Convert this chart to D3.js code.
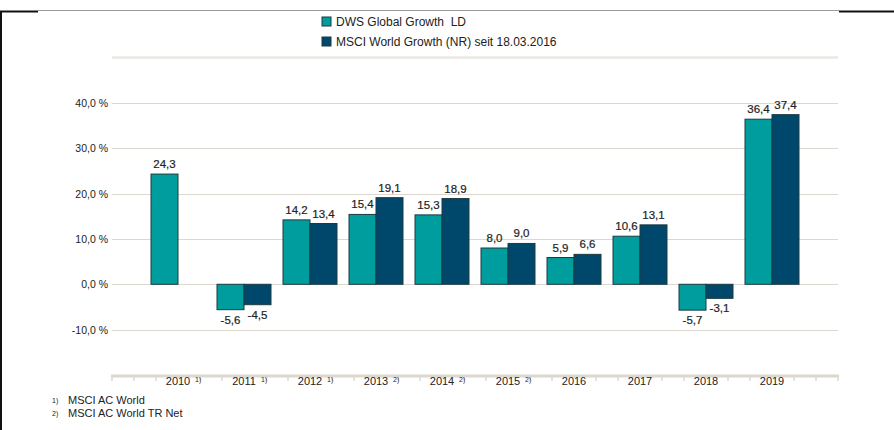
<!DOCTYPE html>
<html lang="de">
<head>
<meta charset="UTF-8">
<title>DWS Global Growth</title>
<script src="https://cdn.jsdelivr.net/npm/d3@7"></script>
<style>
    body { margin: 0; background: #fff; }
    text { font-family: "Liberation Sans", Arial, sans-serif; fill: #222; }
</style>
</head>
<body>
<svg id="chart" width="894" height="430"></svg>
<script>

    var years = ["2010", "2011", "2012", "2013", "2014", "2015", "2016", "2017", "2018", "2019"];
    var notes = ["1)", "1)", "1)", "2)", "2)", "2)", "", "", "", ""];
    var fund = [24.3, -5.6, 14.2, 15.4, 15.3, 8.0, 5.9, 10.6, -5.7, 36.4];
    var bench = [null, -4.5, 13.4, 19.1, 18.9, 9.0, 6.6, 13.1, -3.1, 37.4];
    var seriesNames = ["DWS Global Growth  LD", "MSCI World Growth (NR) seit 18.03.2016"];
    var yTicks = [-10, 0, 10, 20, 30, 40];
    var footnotes = [["1)", "MSCI AC World"], ["2)", "MSCI AC World TR Net"]];

    var colors = ["#009d9f", "#00486b"];
    var fmt = function(v) { return d3.format(".1f")(v).replace(".", ",").replace("\u2212", "-"); };

    var svg = d3.select("#chart");

    // frame
    svg.append("line").attr("x1", 38).attr("x2", 839).attr("y1", 10.5).attr("y2", 10.5)
        .attr("stroke", "#9a9a9a").attr("stroke-width", 1);
    svg.append("line").attr("x1", 0).attr("x2", 38).attr("y1", 11.5).attr("y2", 11.5)
        .attr("stroke", "#111").attr("stroke-width", 2);
    svg.append("line").attr("x1", 839).attr("x2", 894).attr("y1", 11.5).attr("y2", 11.5)
        .attr("stroke", "#111").attr("stroke-width", 2);
    svg.append("line").attr("x1", 1).attr("x2", 1).attr("y1", 11).attr("y2", 430)
        .attr("stroke", "#111").attr("stroke-width", 2);

    var x = d3.scaleBand().domain(years).range([112, 838]).paddingOuter(0.5).paddingInner(0);
    var y = d3.scaleLinear().domain([-20, 50]).range([375, 57.5]);
    var barW = 27;

    // grid
    var grid = svg.append("g");
    grid.selectAll("line.grid")
        .data(yTicks)
        .enter()
        .append("line")
        .attr("class", "grid")
        .attr("x1", 112).attr("x2", 838)
        .attr("y1", function(d) { return Math.round(y(d)) + 0.5; })
        .attr("y2", function(d) { return Math.round(y(d)) + 0.5; })
        .attr("stroke", "#dcd8d0").attr("stroke-width", 1.2);
    grid.append("line")
        .attr("x1", 112).attr("x2", 838).attr("y1", y(50)).attr("y2", y(50))
        .attr("stroke", "#e8e7e2").attr("stroke-width", 2.5);

    grid.selectAll("text.ylab")
        .data(yTicks)
        .enter()
        .append("text")
        .attr("class", "ylab")
        .attr("x", 108)
        .attr("y", function(d) { return y(d) + 4; })
        .attr("text-anchor", "end")
        .attr("font-size", 10.5)
        .text(function(d) { return fmt(d) + " %"; });

    // bars
    function drawSeries(vals, idx) {
        var data = vals.map(function(v, i) { return { year: years[i], v: v }; })
            .filter(function(d) { return d.v !== null; });
        var off = idx === 0 ? -barW : 0;
        svg.selectAll("rect.s" + idx)
            .data(data)
            .enter()
            .append("rect")
            .attr("class", "s" + idx)
            .attr("x", function(d) { return x(d.year) + x.bandwidth() / 2 + off; })
            .attr("y", function(d) { return y(Math.max(0, d.v)); })
            .attr("width", barW)
            .attr("height", function(d) { return Math.abs(y(d.v) - y(0)); })
            .attr("fill", colors[idx])
            .attr("stroke", "#1d3a40")
            .attr("stroke-width", 1);
        svg.selectAll("text.v" + idx)
            .data(data)
            .enter()
            .append("text")
            .attr("class", "v" + idx)
            .attr("x", function(d) { return x(d.year) + x.bandwidth() / 2 + off + barW / 2; })
            .attr("y", function(d) { return d.v >= 0 ? y(d.v) - 6 : y(d.v) + 14; })
            .attr("text-anchor", "middle")
            .attr("font-size", 11.5)
            .attr("stroke", "#222").attr("stroke-width", 0.2)
            .text(function(d) { return fmt(d.v); });
    }
    drawSeries(fund, 0);
    drawSeries(bench, 1);

    // x axis
    var axisY = 376;
    svg.append("line").attr("x1", 111).attr("x2", 839).attr("y1", axisY).attr("y2", axisY)
        .attr("stroke", "#dcd8ce").attr("stroke-width", 3);
    var step = x.step() / 3;
    var tickPos = d3.range(0, 34).map(function(k) { return 112 + k * step; });
    svg.selectAll("line.tick")
        .data(tickPos)
        .enter()
        .append("line")
        .attr("class", "tick")
        .attr("x1", function(d) { return d; }).attr("x2", function(d) { return d; })
        .attr("y1", axisY).attr("y2", axisY + 5)
        .attr("stroke", "#dcd8ce").attr("stroke-width", 1.5);

    var xl = svg.selectAll("g.xlab")
        .data(years)
        .enter()
        .append("g")
        .attr("class", "xlab")
        .attr("transform", function(d) { return "translate(" + (x(d) + x.bandwidth() / 2) + ",0)"; });
    xl.append("rect").attr("x", -14).attr("y", axisY + 2).attr("width", 28).attr("height", 6).attr("fill", "#fff");
    xl.append("text")
        .attr("y", 385)
        .attr("text-anchor", "middle")
        .attr("font-size", 11)
        .text(function(d) { return d; });
    xl.append("text")
        .attr("x", 17)
        .attr("y", 382)
        .attr("font-size", 7)
        .text(function(d, i) { return notes[i]; });

    // legend
    var leg = svg.selectAll("g.leg")
        .data(seriesNames)
        .enter()
        .append("g")
        .attr("class", "leg")
        .attr("transform", function(d, i) { return "translate(322," + (17 + i * 20) + ")"; });
    leg.append("rect").attr("width", 9).attr("height", 9)
        .attr("fill", function(d, i) { return colors[i]; })
        .attr("stroke", "#1d3a40").attr("stroke-width", 1);
    leg.append("text").attr("x", 14).attr("y", 9).attr("font-size", 12)
        .attr("xml:space", "preserve").style("white-space", "pre")
        .text(function(d) { return d; });

    // footnotes
    var fn = svg.selectAll("g.fn")
        .data(footnotes)
        .enter()
        .append("g")
        .attr("class", "fn")
        .attr("transform", function(d, i) { return "translate(0," + (404 + i * 13) + ")"; });
    fn.append("text").attr("x", 52).attr("y", -1).attr("font-size", 7).text(function(d) { return d[0]; });
    fn.append("text").attr("x", 68).attr("font-size", 11).text(function(d) { return d[1]; });

</script>
</body>
</html>
